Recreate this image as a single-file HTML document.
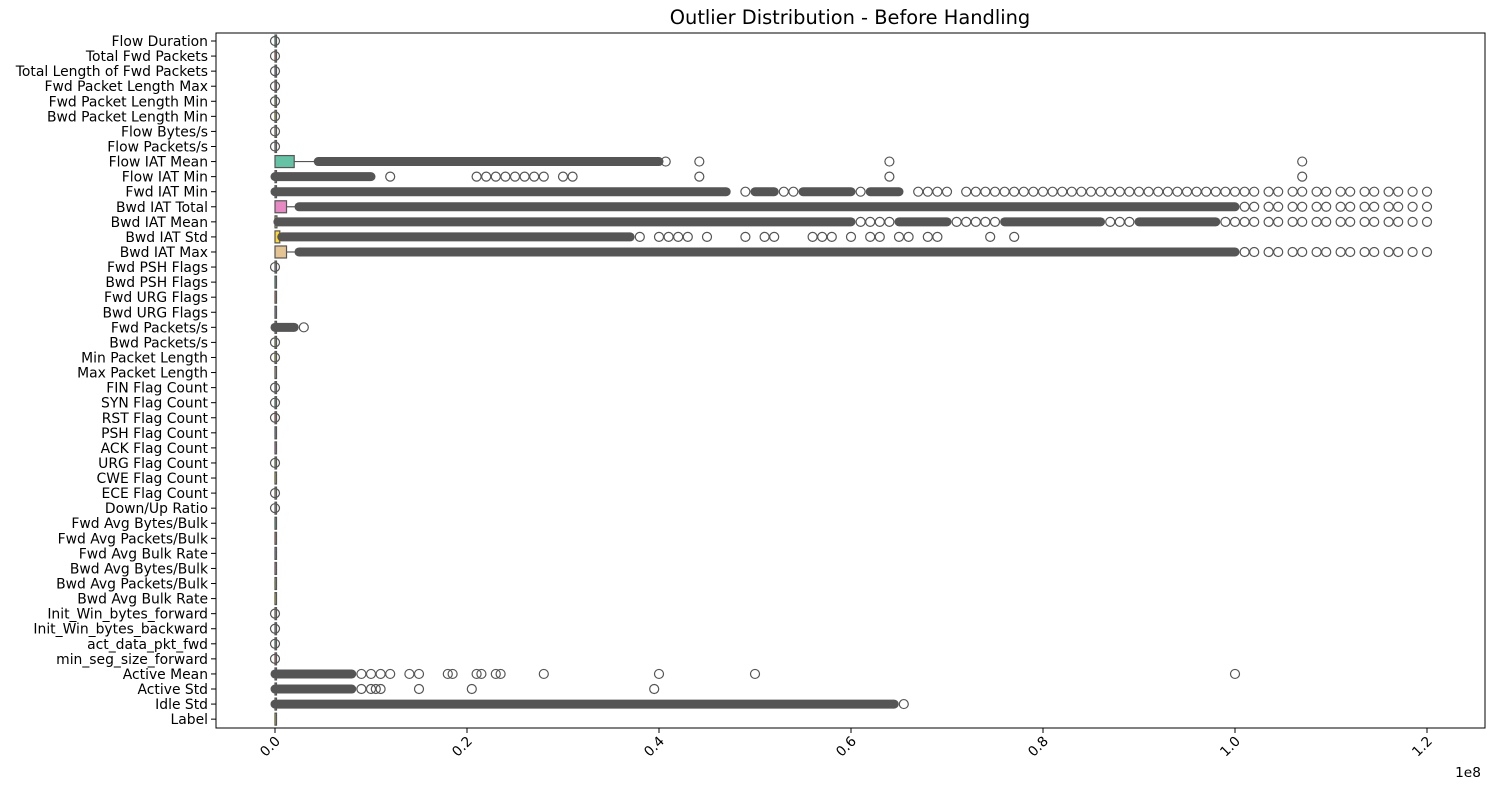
<!DOCTYPE html>
<html><head><meta charset="utf-8"><style>
body{margin:0;background:#fff;}
svg text{font-family:"DejaVu Sans","Liberation Sans",sans-serif;fill:#000;}
</style></head><body>
<svg id="chart" width="1496" height="792" xmlns="http://www.w3.org/2000/svg">
<text x="850" y="24" font-size="19.4" text-anchor="middle">Outlier Distribution - Before Handling</text>
<rect x="216" y="33" width="1269" height="695" fill="none" stroke="#000" stroke-width="1"/>
<g id="rows"></g>
<g id="xaxis"></g>
<text x="1468" y="777" font-size="13.7" text-anchor="middle">1e8</text>
</svg>
<script>
const categories=["Flow Duration","Total Fwd Packets","Total Length of Fwd Packets","Fwd Packet Length Max","Fwd Packet Length Min","Bwd Packet Length Min","Flow Bytes/s","Flow Packets/s","Flow IAT Mean","Flow IAT Min","Fwd IAT Min","Bwd IAT Total","Bwd IAT Mean","Bwd IAT Std","Bwd IAT Max","Fwd PSH Flags","Bwd PSH Flags","Fwd URG Flags","Bwd URG Flags","Fwd Packets/s","Bwd Packets/s","Min Packet Length","Max Packet Length","FIN Flag Count","SYN Flag Count","RST Flag Count","PSH Flag Count","ACK Flag Count","URG Flag Count","CWE Flag Count","ECE Flag Count","Down/Up Ratio","Fwd Avg Bytes/Bulk","Fwd Avg Packets/Bulk","Fwd Avg Bulk Rate","Bwd Avg Bytes/Bulk","Bwd Avg Packets/Bulk","Bwd Avg Bulk Rate","Init_Win_bytes_forward","Init_Win_bytes_backward","act_data_pkt_fwd","min_seg_size_forward","Active Mean","Active Std","Idle Std","Label"];
// box stats in units of 1e8
const boxQ3={8:0.02,11:0.012,12:0.002,13:0.005,14:0.012};
const whiskerHi={8:0.045,11:0.025,12:0.003,13:0.007,14:0.025};
// dense outlier bands [start,end]
const denseBands={9:[[0,0.10]],10:[[0,0.47],[0.5,0.52],[0.55,0.6],[0.62,0.65]],11:[[0.025,1.0]],12:[[0.003,0.6],[0.65,0.7],[0.76,0.86],[0.9,0.98]],13:[[0.007,0.37]],14:[[0.025,1.0]],19:[[0,0.02]],42:[[0,0.08]],43:[[0,0.08]],44:[[0,0.645]],8:[[0.045,0.40]]};
// isolated outliers
const sparse={
0:[0],1:[0],2:[0],3:[0],4:[0],5:[0],6:[0],7:[0],15:[0],20:[0],21:[0],23:[0],24:[0],25:[0],28:[0],30:[0],31:[0],38:[0],39:[0],40:[0],41:[0],
8:[0.407,0.442,0.64,1.07],
9:[0.12,0.21,0.22,0.23,0.24,0.25,0.26,0.27,0.28,0.3,0.31,0.442,0.64,1.07],
10:[0.49,0.53,0.54,0.61,0.67,0.68,0.69,0.7,0.72,0.73,0.74,0.75,0.76,0.77,0.78,0.79,0.8,0.81,0.82,0.83,0.84,0.85,0.86,0.87,0.88,0.89,0.9,0.91,0.92,0.93,0.94,0.95,0.96,0.97,0.98,0.99,1.0,1.01,1.02,1.035,1.045,1.06,1.07,1.085,1.095,1.11,1.12,1.135,1.145,1.16,1.17,1.185,1.2],
11:[1.01,1.02,1.035,1.045,1.06,1.07,1.085,1.095,1.11,1.12,1.135,1.145,1.16,1.17,1.185,1.2],
12:[0.61,0.62,0.63,0.64,0.71,0.72,0.73,0.74,0.75,0.87,0.88,0.89,0.99,1.0,1.01,1.02,1.035,1.045,1.06,1.07,1.085,1.095,1.11,1.12,1.135,1.145,1.16,1.17,1.185,1.2],
13:[0.38,0.4,0.41,0.42,0.43,0.45,0.49,0.51,0.52,0.56,0.57,0.58,0.6,0.62,0.63,0.65,0.66,0.68,0.69,0.745,0.77],
14:[1.01,1.02,1.035,1.045,1.06,1.07,1.085,1.095,1.11,1.12,1.135,1.145,1.16,1.17,1.185,1.2],
19:[0.03],
42:[0.09,0.1,0.11,0.12,0.14,0.15,0.18,0.185,0.21,0.215,0.23,0.235,0.28,0.4,0.5,1.0],
43:[0.09,0.1,0.105,0.11,0.15,0.205,0.395],
44:[0.655]};
const xTicks=[0,0.2,0.4,0.6,0.8,1.0,1.2];
const palette=["#66c2a5","#fc8d62","#8da0cb","#e78ac3","#a6d854","#ffd92f","#e5c494","#b3b3b3"];
const NS="http://www.w3.org/2000/svg";
const x=v=>275+v*960;
const y=i=>41+i*15.07;
const rows=document.getElementById('rows');
function mk(t,a,p){const e=document.createElementNS(NS,t);for(const k in a)e.setAttribute(k,a[k]);(p||rows).appendChild(e);return e;}
const gray="#555";
categories.forEach((c,i)=>{
  const yy=y(i);
  const lab=mk('text',{x:208,y:yy+5,'font-size':13.9,'text-anchor':'end'});
  lab.textContent=c;
  
  
  mk('line',{x1:211,x2:216,y1:yy,y2:yy,stroke:'#000'});
  const col=palette[i%8];
  const q3=boxQ3[i]||0;
  const wh=whiskerHi[i]||0;
  if(wh>q3){mk('line',{x1:x(q3),x2:x(wh),y1:yy,y2:yy,stroke:gray,'stroke-width':1.2});}
  const bw=Math.max(x(q3)-x(0),1.5);
  const box=mk('rect',{x:x(0),y:yy-6,width:bw,height:12,fill:col,stroke:gray,'stroke-width':1.2});
  
  
  (denseBands[i]||[]).forEach(b=>{
    const r=mk('rect',{x:x(b[0])-4.5,y:yy-4.5,width:x(b[1])-x(b[0])+9,height:9,rx:4.5,fill:gray});
    
    
  });
  (sparse[i]||[]).forEach(v=>{
    const ci=mk('circle',{cx:x(v),cy:yy,r:4.5,fill:'none',stroke:gray,'stroke-width':1.2});
    
    
  });
});
const xa=document.getElementById('xaxis');
xTicks.forEach(t=>{
  const xx=x(t);
  mk('line',{x1:xx,x2:xx,y1:728,y2:733,stroke:'#000'},xa);
  const tx=mk('text',{x:0,y:0,'font-size':13.7,'text-anchor':'end',transform:`translate(${xx+6},${742}) rotate(-45)`},xa);
  tx.textContent=t.toFixed(1);
  
  
});
</script>
</body></html>
